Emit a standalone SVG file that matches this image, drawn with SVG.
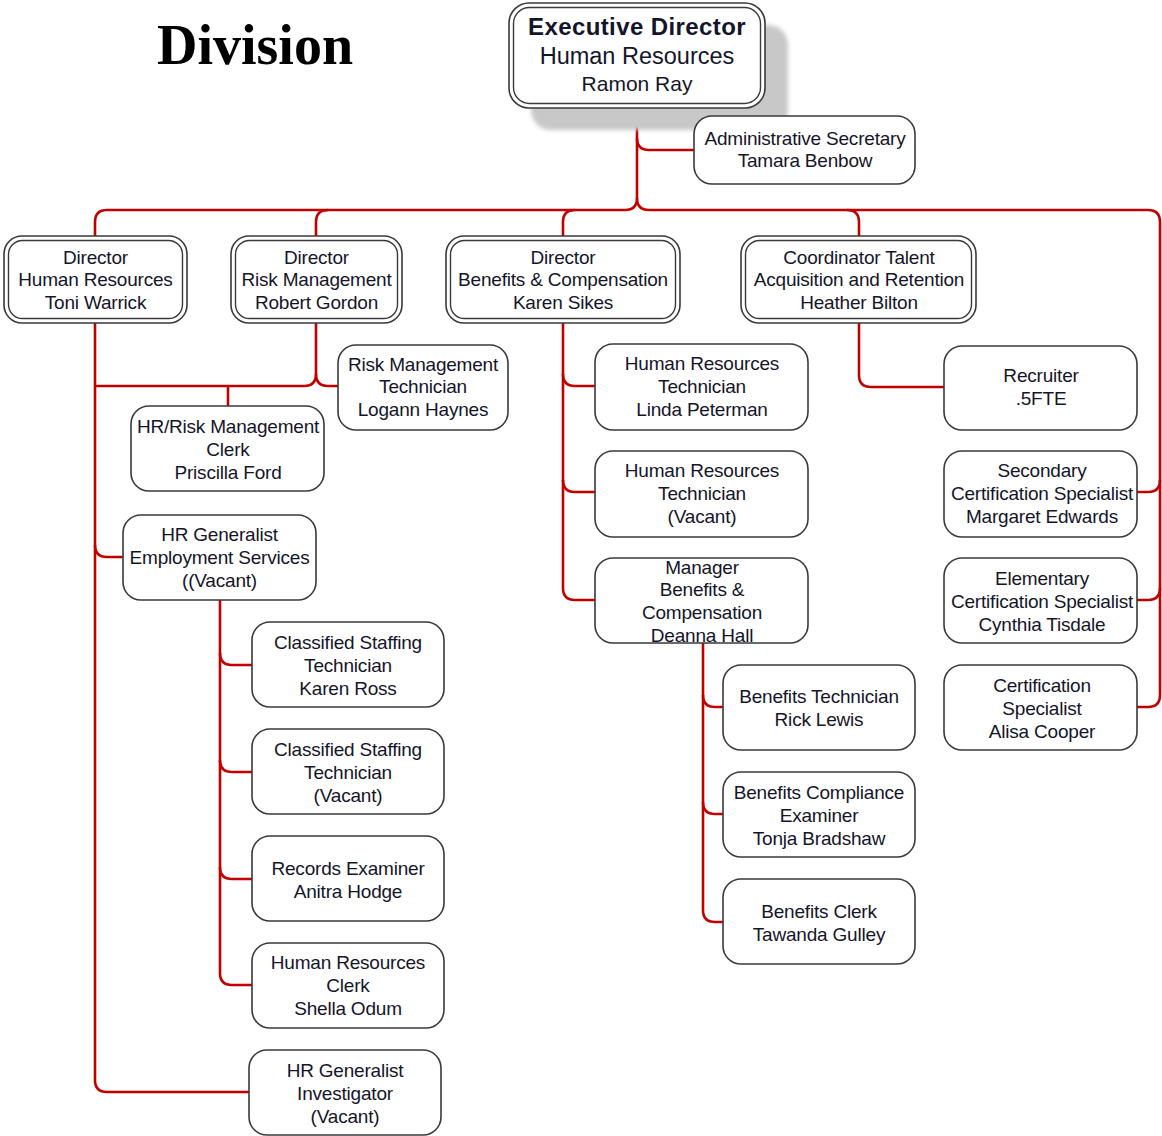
<svg xmlns="http://www.w3.org/2000/svg" width="1162" height="1136" viewBox="0 0 1162 1136">
  <defs>
    <filter id="soft" x="-10%" y="-10%" width="120%" height="120%">
      <feGaussianBlur stdDeviation="2"/>
    </filter>
  </defs>
  <style>
    .box { fill: #ffffff; stroke: #3a3a3a; stroke-width: 1.6; }
    .inner { fill: none; stroke: #3a3a3a; stroke-width: 1.4; }
    .t { font-family: "Liberation Sans", Arial, sans-serif; font-size: 19px; fill: #15152a; text-anchor: middle; letter-spacing: -0.2px; }
    .big { font-size: 23.5px; letter-spacing: 0; }
    .mid { font-size: 21px; letter-spacing: 0; }
    .bold { font-weight: bold; font-size: 24px; letter-spacing: 0.4px; }
    .title { font-family: "Liberation Serif", "Times New Roman", serif; font-weight: bold; font-size: 56px; fill: #000; }
    .conn path { fill: none; stroke: #c00000; stroke-width: 2.6; }
  </style>

  <rect width="1162" height="1136" fill="#ffffff"/>

  <text class="title" x="157" y="64">Division</text>

  <!-- reporting lines -->
  <g id="connectors" class="conn">
    <!-- executive trunk and top bus -->
    <path d="M637,108 V198 Q637,210 625,210 H107 Q95,210 95,222 V236"/>
    <path d="M637,198 Q637,210 649,210 H1148 Q1160,210 1160,222 V695 Q1160,707 1148,707 H1137"/>
    <path d="M637,138 Q637,150 649,150 H694"/>
    <path d="M328,210 Q316,210 316,222 V236"/>
    <path d="M575,210 Q563,210 563,222 V236"/>
    <path d="M847,210 Q859,210 859,222 V236"/>
    <!-- certification specialists -->
    <path d="M1160,480 Q1160,492 1148,492 H1137"/>
    <path d="M1160,588 Q1160,600 1148,600 H1137"/>
    <!-- recruiter -->
    <path d="M859,323 V375 Q859,387 871,387 H944"/>
    <!-- benefits & compensation -->
    <path d="M563,323 V588 Q563,600 575,600 H595"/>
    <path d="M563,374 Q563,386 575,386 H595"/>
    <path d="M563,480 Q563,492 575,492 H595"/>
    <!-- benefits manager -->
    <path d="M703,643 V910 Q703,922 715,922 H723"/>
    <path d="M703,695 Q703,707 715,707 H723"/>
    <path d="M703,802 Q703,814 715,814 H723"/>
    <!-- risk management -->
    <path d="M316,323 V374 Q316,386 304,386 H95"/>
    <path d="M316,374 Q316,386 328,386 H338"/>
    <path d="M228,386 V406"/>
    <!-- human resources director -->
    <path d="M95,323 V1080 Q95,1092 107,1092 H249"/>
    <path d="M95,545 Q95,557 107,557 H123"/>
    <!-- HR generalist employment services -->
    <path d="M220,600 V973 Q220,985 232,985 H252"/>
    <path d="M220,653 Q220,665 232,665 H252"/>
    <path d="M220,760 Q220,772 232,772 H252"/>
    <path d="M220,867 Q220,879 232,879 H252"/>
  </g>

  <!-- executive director -->
  <g id="exec-director">
    <rect x="531" y="25" width="257" height="105" rx="20" fill="#c8c8c8" filter="url(#soft)"/>
    <rect class="box" x="509" y="3" width="256" height="105" rx="20"/>
    <rect class="inner" x="513.5" y="7.5" width="247" height="96" rx="16"/>
    <text class="t bold" x="637" y="35">Executive Director</text>
    <text class="t big" x="637" y="64">Human Resources</text>
    <text class="t mid" x="637" y="91">Ramon Ray</text>
  </g>

  <g id="admin-secretary">
    <rect class="box" x="694" y="116" width="221" height="68" rx="18"/>
    <text class="t" x="805" y="145">Administrative Secretary</text>
    <text class="t" x="805" y="167">Tamara Benbow</text>
  </g>

  <!-- directors -->
  <g id="director-hr">
    <rect class="box" x="4" y="236" width="183" height="87" rx="18"/>
    <rect class="inner" x="8.5" y="240.5" width="174" height="78" rx="14"/>
    <text class="t" x="95.5" y="264">Director</text>
    <text class="t" x="95.5" y="286">Human Resources</text>
    <text class="t" x="95.5" y="309">Toni Warrick</text>
  </g>

  <g id="director-risk">
    <rect class="box" x="231" y="236" width="171" height="87" rx="18"/>
    <rect class="inner" x="235.5" y="240.5" width="162" height="78" rx="14"/>
    <text class="t" x="316.5" y="264">Director</text>
    <text class="t" x="316.5" y="286">Risk Management</text>
    <text class="t" x="316.5" y="309">Robert Gordon</text>
  </g>

  <g id="director-benefits">
    <rect class="box" x="446" y="236" width="234" height="87" rx="18"/>
    <rect class="inner" x="450.5" y="240.5" width="225" height="78" rx="14"/>
    <text class="t" x="563" y="264">Director</text>
    <text class="t" x="563" y="286">Benefits &amp; Compensation</text>
    <text class="t" x="563" y="309">Karen Sikes</text>
  </g>

  <g id="coordinator-talent">
    <rect class="box" x="741" y="236" width="235" height="87" rx="18"/>
    <rect class="inner" x="745.5" y="240.5" width="226" height="78" rx="14"/>
    <text class="t" x="859" y="264">Coordinator Talent</text>
    <text class="t" x="859" y="286">Acquisition and Retention</text>
    <text class="t" x="859" y="309">Heather Bilton</text>
  </g>

  <!-- risk management staff -->
  <g id="risk-technician">
    <rect class="box" x="338" y="345" width="170" height="85" rx="18"/>
    <text class="t" x="423" y="371">Risk Management</text>
    <text class="t" x="423" y="393">Technician</text>
    <text class="t" x="423" y="416">Logann Haynes</text>
  </g>

  <g id="hr-risk-clerk">
    <rect class="box" x="131" y="406" width="193" height="85" rx="18"/>
    <text class="t" x="228" y="433">HR/Risk Management</text>
    <text class="t" x="228" y="456">Clerk</text>
    <text class="t" x="228" y="479">Priscilla Ford</text>
  </g>

  <!-- human resources staff -->
  <g id="hr-generalist-es">
    <rect class="box" x="123" y="515" width="193" height="85" rx="18"/>
    <text class="t" x="219.5" y="541">HR Generalist</text>
    <text class="t" x="219.5" y="564">Employment Services</text>
    <text class="t" x="219.5" y="587">((Vacant)</text>
  </g>

  <g id="classified-staffing-1">
    <rect class="box" x="252" y="622" width="192" height="85" rx="18"/>
    <text class="t" x="348" y="649">Classified Staffing</text>
    <text class="t" x="348" y="672">Technician</text>
    <text class="t" x="348" y="695">Karen Ross</text>
  </g>

  <g id="classified-staffing-2">
    <rect class="box" x="252" y="729" width="192" height="85" rx="18"/>
    <text class="t" x="348" y="756">Classified Staffing</text>
    <text class="t" x="348" y="779">Technician</text>
    <text class="t" x="348" y="802">(Vacant)</text>
  </g>

  <g id="records-examiner">
    <rect class="box" x="252" y="836" width="192" height="85" rx="18"/>
    <text class="t" x="348" y="875">Records Examiner</text>
    <text class="t" x="348" y="898">Anitra Hodge</text>
  </g>

  <g id="hr-clerk">
    <rect class="box" x="252" y="943" width="192" height="85" rx="18"/>
    <text class="t" x="348" y="969">Human Resources</text>
    <text class="t" x="348" y="992">Clerk</text>
    <text class="t" x="348" y="1015">Shella Odum</text>
  </g>

  <g id="hr-generalist-inv">
    <rect class="box" x="249" y="1050" width="192" height="85" rx="18"/>
    <text class="t" x="345" y="1077">HR Generalist</text>
    <text class="t" x="345" y="1100">Investigator</text>
    <text class="t" x="345" y="1123">(Vacant)</text>
  </g>

  <!-- benefits & compensation staff -->
  <g id="hr-technician-1">
    <rect class="box" x="595" y="344" width="213" height="86" rx="18"/>
    <text class="t" x="702" y="370">Human Resources</text>
    <text class="t" x="702" y="393">Technician</text>
    <text class="t" x="702" y="416">Linda Peterman</text>
  </g>

  <g id="hr-technician-2">
    <rect class="box" x="595" y="451" width="213" height="86" rx="18"/>
    <text class="t" x="702" y="477">Human Resources</text>
    <text class="t" x="702" y="500">Technician</text>
    <text class="t" x="702" y="523">(Vacant)</text>
  </g>

  <g id="benefits-manager">
    <rect class="box" x="595" y="558" width="213" height="85" rx="18"/>
    <text class="t" x="702" y="574">Manager</text>
    <text class="t" x="702" y="596">Benefits &amp;</text>
    <text class="t" x="702" y="619">Compensation</text>
    <text class="t" x="702" y="642">Deanna Hall</text>
  </g>

  <g id="benefits-technician">
    <rect class="box" x="723" y="665" width="192" height="85" rx="18"/>
    <text class="t" x="819" y="703">Benefits Technician</text>
    <text class="t" x="819" y="726">Rick Lewis</text>
  </g>

  <g id="benefits-compliance">
    <rect class="box" x="723" y="772" width="192" height="85" rx="18"/>
    <text class="t" x="819" y="799">Benefits Compliance</text>
    <text class="t" x="819" y="822">Examiner</text>
    <text class="t" x="819" y="845">Tonja Bradshaw</text>
  </g>

  <g id="benefits-clerk">
    <rect class="box" x="723" y="879" width="192" height="85" rx="18"/>
    <text class="t" x="819" y="918">Benefits Clerk</text>
    <text class="t" x="819" y="941">Tawanda Gulley</text>
  </g>

  <!-- talent acquisition staff -->
  <g id="recruiter">
    <rect class="box" x="944" y="346" width="193" height="84" rx="18"/>
    <text class="t" x="1041" y="382">Recruiter</text>
    <text class="t" x="1041" y="405">.5FTE</text>
  </g>

  <g id="secondary-cert">
    <rect class="box" x="944" y="451" width="193" height="86" rx="18"/>
    <text class="t" x="1042" y="477">Secondary</text>
    <text class="t" x="1042" y="500">Certification Specialist</text>
    <text class="t" x="1042" y="523">Margaret Edwards</text>
  </g>

  <g id="elementary-cert">
    <rect class="box" x="944" y="558" width="193" height="85" rx="18"/>
    <text class="t" x="1042" y="585">Elementary</text>
    <text class="t" x="1042" y="608">Certification Specialist</text>
    <text class="t" x="1042" y="631">Cynthia Tisdale</text>
  </g>

  <g id="cert-specialist">
    <rect class="box" x="944" y="665" width="193" height="85" rx="18"/>
    <text class="t" x="1042" y="692">Certification</text>
    <text class="t" x="1042" y="715">Specialist</text>
    <text class="t" x="1042" y="738">Alisa Cooper</text>
  </g>
</svg>
